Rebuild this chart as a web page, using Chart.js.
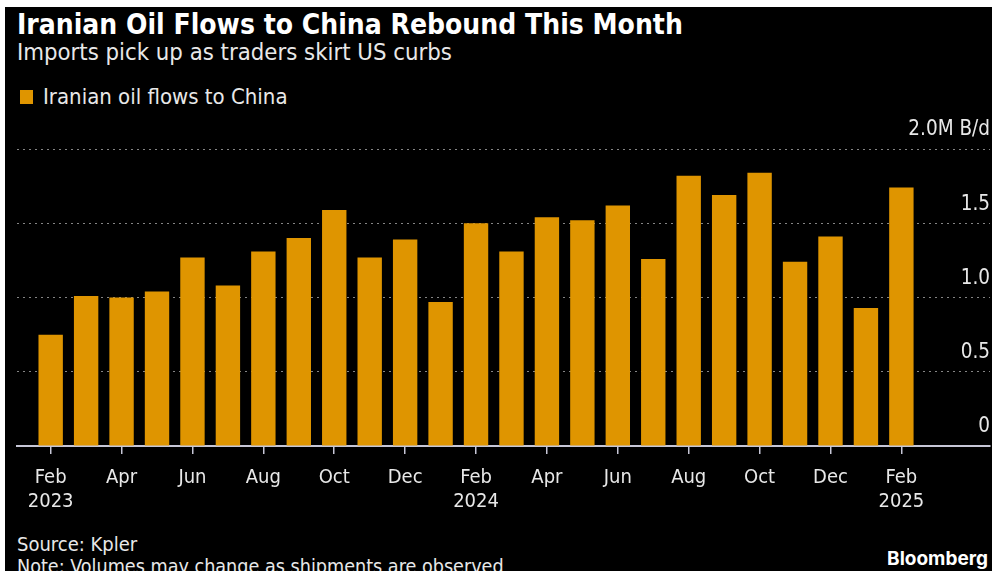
<!DOCTYPE html>
<html>
<head>
<meta charset="utf-8">
<script src="https://cdn.jsdelivr.net/npm/chart.js@4/dist/chart.umd.min.js"></script>
<style>
  html, body { margin: 0; padding: 0; background: #fff; }
  #frame { position: absolute; left: 0; top: 0; width: 992px; height: 571px; overflow: hidden; background: #fff; }
  #panel { position: absolute; left: 5px; top: 7px; width: 987px; height: 564px; background: #000; }
  .t { position: absolute; color: #e8e8e8; white-space: nowrap; font-family: "DejaVu Sans Condensed", "DejaVu Sans", sans-serif; }
  #title { left: 17px; top: 11px; font-size: 28px; line-height: 28px; font-weight: bold; color: #fff; }
  #subtitle { left: 17px; top: 41px; font-size: 23.7px; line-height: 23.7px; }
  #legend { left: 43px; top: 86px; font-size: 22px; line-height: 22px; }
  #swatch { position: absolute; left: 20px; top: 90px; width: 13px; height: 14px; background: #df9500; }
  #source { left: 17px; top: 534px; font-size: 20px; line-height: 20px; }
  #note { left: 17px; top: 557px; font-size: 19.6px; line-height: 20px; }
  #brand { right: 4px; top: 549px; font-family: Inter, "Liberation Sans", sans-serif; font-weight: 700; font-size: 19px; line-height: 19px; color: #fff; }
  canvas { position: absolute; left: 0; top: 0; }
</style>
</head>
<body>
<div id="frame">
  <div id="panel"></div>
  <div class="t" id="title">Iranian Oil Flows to China Rebound This Month</div>
  <div class="t" id="subtitle">Imports pick up as traders skirt US curbs</div>
  <div id="swatch"></div>
  <div class="t" id="legend">Iranian oil flows to China</div>
  <div class="t" id="source">Source: Kpler</div>
  <div class="t" id="note">Note: Volumes may change as shipments are observed</div>
  <div class="t" id="brand">Bloomberg</div>
  <canvas id="chart" width="992" height="571"></canvas>
</div>
<script>
// monthly Iranian crude flows to China, million barrels a day
const months = [
  "Feb 2023", "Mar 2023", "Apr 2023", "May 2023", "Jun 2023", "Jul 2023",
  "Aug 2023", "Sep 2023", "Oct 2023", "Nov 2023", "Dec 2023",
  "Jan 2024", "Feb 2024", "Mar 2024", "Apr 2024", "May 2024", "Jun 2024",
  "Jul 2024", "Aug 2024", "Sep 2024", "Oct 2024", "Nov 2024", "Dec 2024",
  "Jan 2025", "Feb 2025"
];
const flows = [
  0.75, 1.01, 1.00, 1.04, 1.27, 1.08,
  1.31, 1.40, 1.59, 1.27, 1.39,
  0.97, 1.50, 1.31, 1.54, 1.52, 1.62,
  1.26, 1.82, 1.69, 1.84, 1.24, 1.41,
  0.93, 1.74
];
// one label every second month
const xTickLabels = [
  ["Feb", "2023"], "Apr", "Jun", "Aug", "Oct", "Dec",
  ["Feb", "2024"], "Apr", "Jun", "Aug", "Oct", "Dec",
  ["Feb", "2025"]
];
const yTicks = [0, 0.5, 1.0, 1.5, 2.0];
const yTickLabels = ["0", "0.5", "1.0", "1.5", "2.0M B/d"];

const axisFont = { family: "'DejaVu Sans Condensed', 'DejaVu Sans', sans-serif", size: 20 };
const axisGrey = "#c6c6d6";

new Chart(document.getElementById("chart"), {
  type: "bar",
  data: {
    datasets: [
      {
        label: "Iranian oil flows to China",
        data: flows.map((v, i) => ({ x: i, y: v })),
        backgroundColor: "#df9500",
        borderWidth: 0,
        barPercentage: 0.86,
        categoryPercentage: 0.8,
      },
    ],
  },
  options: {
    responsive: false,
    animation: false,
    layout: { padding: { left: 17, top: 149, right: 2, bottom: 0 } },
    plugins: { legend: { display: false }, tooltip: { enabled: false } },
    scales: {
      x: {
        type: "linear",
        offset: false,
        min: -0.95,
        max: 26.5,
        afterBuildTicks: function (scale) {
          scale.ticks = xTickLabels.map((_, k) => ({ value: k * 2 }));
        },
        afterFit: function (scale) {
          scale.height = 125;
        },
        ticks: {
          autoSkip: false,
          maxRotation: 0,
          color: "#e8e8e8",
          font: axisFont,
          padding: 12,
          callback: function (value, index) {
            return xTickLabels[index];
          },
        },
        grid: {
          offset: false,
          drawOnChartArea: false,
          drawTicks: true,
          tickLength: 8,
          tickColor: axisGrey,
          lineWidth: 1.5,
        },
        border: { color: axisGrey, width: 2 },
      },
      y: {
        position: "right",
        min: 0,
        max: 2,
        afterBuildTicks: function (scale) {
          scale.ticks = yTicks.map((v) => ({ value: v }));
        },
        afterFit: function (scale) {
          scale.width = 0;
        },
        ticks: {
          mirror: true,
          padding: 0,
          labelOffset: -19,
          color: "#e8e8e8",
          font: { family: axisFont.family, size: 20.5 },
          callback: function (value, index) {
            return yTickLabels[index];
          },
        },
        grid: {
          color: "#858585",
          lineWidth: 1,
          drawTicks: false,
        },
        border: { display: false, dash: [2, 4] },
      },
    },
  },
});
</script>
</body>
</html>
